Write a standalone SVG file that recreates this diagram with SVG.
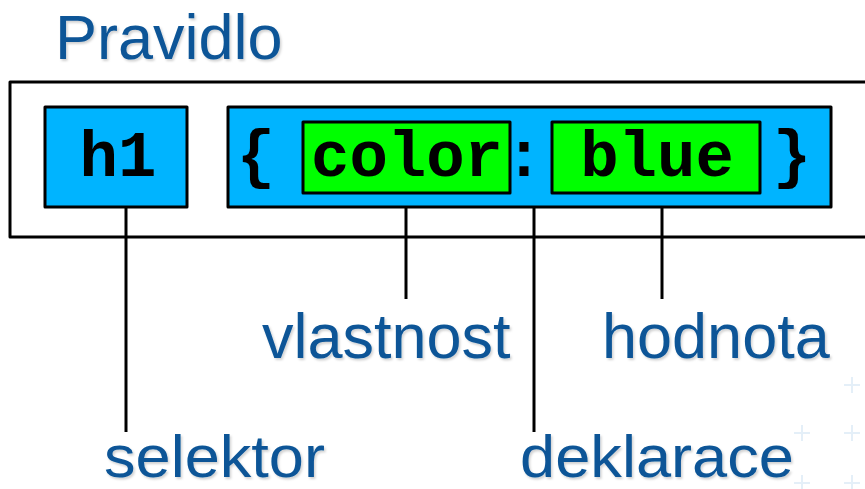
<svg xmlns="http://www.w3.org/2000/svg" width="865" height="489" viewBox="0 0 865 489">
  <defs>
    <filter id="sh" x="-5%" y="-5%" width="110%" height="115%">
      <feDropShadow dx="1.5" dy="2" stdDeviation="1.2" flood-color="#000" flood-opacity="0.18"/>
    </filter>
    <style>
      .lbl { font-family: "Liberation Sans", Arial, sans-serif; font-size: 63px; fill: #0b5597; filter: url(#sh); }
      .low { font-size: 60px; }
      .code { font-family: "Liberation Mono", "Courier New", monospace; font-size: 64px; font-weight: bold; fill: #000; text-anchor: middle; }
      .box { stroke: #000; stroke-width: 3; stroke-linejoin: round; }
      .blue { fill: #00b4ff; }
      .green { fill: #00ff00; }
      .ln { stroke: #000; stroke-width: 3; fill: none; }
      .deco { stroke: #e4eff8; stroke-width: 2; fill: none; }
    </style>
  </defs>
  <rect width="865" height="489" fill="#fff"/>
  <g id="decoration">
    <path class="deco" d="M794 433h16M802 425v16M844 433h16M852 425v16M794 483h16M802 475v16M844 483h16M852 475v16M844 385h16M852 377v16"/>
  </g>
  <g id="title">
    <text class="lbl" x="55" y="59">Pravidlo</text>
  </g>
  <g id="rule">
    <rect class="ln" x="10" y="82" width="870" height="155" stroke-linejoin="round"/>
  </g>
  <g id="connectors">
    <line class="ln" x1="126" y1="207" x2="126" y2="432"/>
    <line class="ln" x1="406" y1="193" x2="406" y2="299"/>
    <line class="ln" x1="534" y1="207" x2="534" y2="432"/>
    <line class="ln" x1="662" y1="193" x2="662" y2="299"/>
  </g>
  <g id="selector">
    <rect class="box blue" x="45" y="107" width="142" height="100"/>
    <text class="code" x="118" y="176">h1</text>
  </g>
  <g id="declaration">
    <rect class="box blue" x="228" y="107" width="603" height="100"/>
    <text class="code" x="256" y="176">{</text>
    <text class="code" x="524" y="176">:</text>
    <text class="code" x="792" y="176">}</text>
  </g>
  <g id="property">
    <rect class="box green" x="303" y="122" width="207" height="71"/>
    <text class="code" x="407" y="176">color</text>
  </g>
  <g id="value">
    <rect class="box green" x="552" y="122" width="208" height="71"/>
    <text class="code" x="657" y="176">blue</text>
  </g>
  <g id="labels">
    <text class="lbl" x="262" y="358">vlastnost</text>
    <text class="lbl" x="602" y="358">hodnota</text>
    <text class="lbl low" x="104" y="477" textLength="221" lengthAdjust="spacingAndGlyphs">selektor</text>
    <text class="lbl low" x="520" y="477" textLength="274" lengthAdjust="spacingAndGlyphs">deklarace</text>
  </g>
</svg>
